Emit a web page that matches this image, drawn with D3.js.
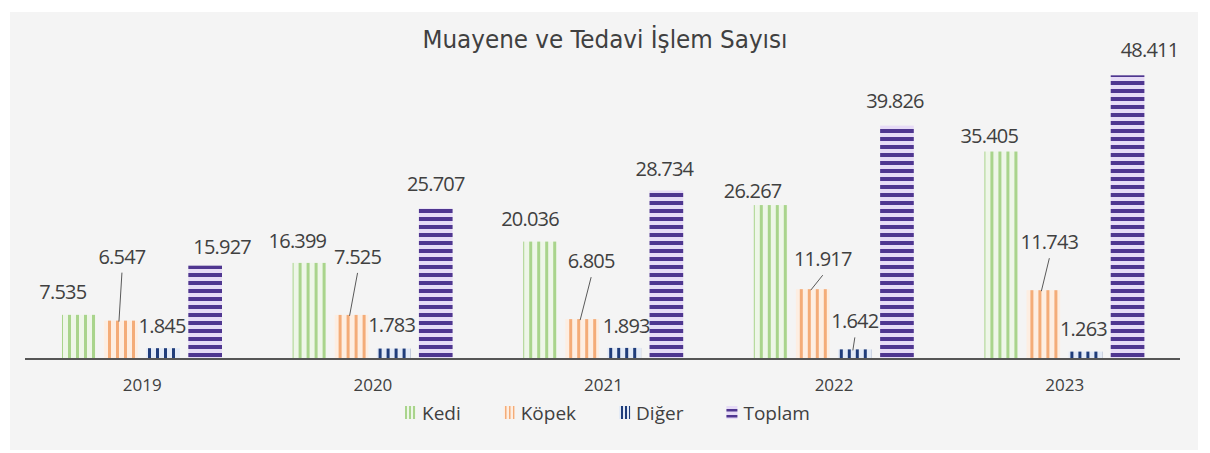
<!DOCTYPE html>
<html>
<head>
<meta charset="utf-8">
<script src="https://cdn.jsdelivr.net/npm/d3@7"></script>
<style>
  body { margin: 0; background: #ffffff; }
  svg { display: block; }
</style>
</head>
<body>
<div id="chart"></div>
<script>
// values
const years = ["2019", "2020", "2021", "2022", "2023"];
const seriesNames = ["Kedi", "Köpek", "Diğer", "Toplam"];
const kedi = [7535, 16399, 20036, 26267, 35405];
const kopek = [6547, 7525, 6805, 11917, 11743];
const diger = [1845, 1783, 1893, 1642, 1263];
const toplam = [15927, 25707, 28734, 39826, 48411];
const valueLabels = {
  "Kedi": ["7.535", "16.399", "20.036", "26.267", "35.405"],
  "Köpek": ["6.547", "7.525", "6.805", "11.917", "11.743"],
  "Diğer": ["1.845", "1.783", "1.893", "1.642", "1.263"],
  "Toplam": ["15.927", "25.707", "28.734", "39.826", "48.411"]
};

// label nudges (layout only), relative to bar centre / bar top
const labelDx = {
  "Kedi": [-16, -12, -10, -18, -12],
  "Köpek": [1, 6, 9, 10, 6],
  "Diğer": [-1, -2, 2, 0, -2],
  "Toplam": [17, 0, -2, -2, 22]
};
const labelDy = {
  "Kedi": [-16, -15, -16, -7, -9],
  "Köpek": [-57, -51, -51, -23, -41],
  "Diğer": [-15, -17, -15, -21, -16],
  "Toplam": [-12, -17, -15, -18, -18]
};
const leaders = { "Köpek": [true, true, true, true, true], "Diğer": [false, false, false, true, false] };

const seriesValues = { "Kedi": kedi, "Köpek": kopek, "Diğer": diger, "Toplam": toplam };

const width = 1210;
const height = 453;
const baseY = 359;

const svg = d3.select("#chart")
  .append("svg")
  .attr("width", width)
  .attr("height", height);

// panel background
svg.append("rect")
  .attr("x", 10).attr("y", 12)
  .attr("width", 1188).attr("height", 438)
  .attr("fill", "#f4f4f4");

// patterns
const defs = svg.append("defs");

function vStripes(id, size, bg, fg, w) {
  const p = defs.append("pattern")
    .attr("id", id)
    .attr("patternUnits", "userSpaceOnUse")
    .attr("width", size).attr("height", size);
  p.append("rect").attr("width", size).attr("height", size).attr("fill", bg);
  p.append("rect").attr("x", 1).attr("width", w).attr("height", size).attr("fill", fg);
}
function hStripes(id, size, bg, fg, h) {
  const p = defs.append("pattern")
    .attr("id", id)
    .attr("patternUnits", "userSpaceOnUse")
    .attr("width", size).attr("height", size);
  p.append("rect").attr("width", size).attr("height", size).attr("fill", bg);
  p.append("rect").attr("y", 1).attr("width", size).attr("height", h).attr("fill", fg);
}

const styles = {
  "Kedi": { bg: "#eef6e8", fg: "#a9d48c" },
  "Köpek": { bg: "#fdeee2", fg: "#f4ac78" },
  "Diğer": { bg: "#e3eaf6", fg: "#1f3c7a" },
  "Toplam": { bg: "#e6dbf6", fg: "#4f3690" }
};

vStripes("p-Kedi", 8, styles["Kedi"].bg, styles["Kedi"].fg, 3);
vStripes("p-Köpek", 8, styles["Köpek"].bg, styles["Köpek"].fg, 3);
vStripes("p-Diğer", 8, styles["Diğer"].bg, styles["Diğer"].fg, 3);
hStripes("p-Toplam", 8, styles["Toplam"].bg, styles["Toplam"].fg, 4);
vStripes("l-Kedi", 4, styles["Kedi"].bg, styles["Kedi"].fg, 2);
vStripes("l-Köpek", 4, styles["Köpek"].bg, styles["Köpek"].fg, 1.5);
vStripes("l-Diğer", 4, styles["Diğer"].bg, styles["Diğer"].fg, 2);
hStripes("l-Toplam", 6, styles["Toplam"].bg, styles["Toplam"].fg, 2.5);

// scales
const x0 = d3.scaleBand().domain(years).range([27, 1180]).padding(0);
const x1 = d3.scaleBand().domain(seriesNames).range([35, 195]).paddingInner(0.2).paddingOuter(0);
const y = d3.scaleLinear().domain([0, 50000]).range([baseY, 66]);

// title
svg.append("text")
  .attr("x", 605).attr("y", 48)
  .attr("text-anchor", "middle")
  .attr("font-family", "'Liberation Sans Narrow', 'DejaVu Sans Condensed', 'Noto Sans', sans-serif")
  .attr("font-size", 24)
  .attr("fill", "#404040")
  .attr("textLength", 365)
  .attr("lengthAdjust", "spacingAndGlyphs")
  .text("Muayene ve Tedavi İşlem Sayısı");

// bars
const groups = svg.selectAll("g.year")
  .data(years)
  .enter()
  .append("g")
  .attr("class", "year")
  .attr("transform", (d) => `translate(${x0(d)},0)`);

groups.selectAll("rect")
  .data((d, i) => seriesNames.map((s) => ({ s: s, v: seriesValues[s][i] })))
  .enter()
  .append("rect")
  .attr("x", (d) => x1(d.s))
  .attr("y", (d) => y(d.v))
  .attr("width", x1.bandwidth())
  .attr("height", (d) => baseY - y(d.v))
  .attr("fill", (d) => `url(#p-${d.s})`);

// axis line
svg.append("line")
  .attr("x1", 25).attr("x2", 1180)
  .attr("y1", baseY).attr("y2", baseY)
  .attr("stroke", "#555555")
  .attr("stroke-width", 2);

// category labels
svg.selectAll("text.cat")
  .data(years)
  .enter()
  .append("text")
  .attr("class", "cat")
  .attr("x", (d) => x0(d) + x0.bandwidth() / 2)
  .attr("y", 391)
  .attr("text-anchor", "middle")
  .attr("font-family", "'Open Sans', sans-serif")
  .attr("font-size", 17)
  .attr("fill", "#404040")
  .text((d) => d);

// value labels and leader lines
seriesNames.forEach((s) => {
  years.forEach((yr, i) => {
    const cx = x0(yr) + x1(s) + x1.bandwidth() / 2;
    const top = y(seriesValues[s][i]);
    const lx = cx + labelDx[s][i];
    const ly = top + labelDy[s][i];
    if (leaders[s] && leaders[s][i]) {
      svg.append("line")
        .attr("x1", lx).attr("y1", ly + 9)
        .attr("x2", cx - 2).attr("y2", top + 1)
        .attr("stroke", "#595959")
        .attr("stroke-width", 1);
    }
    svg.append("text")
      .attr("x", lx)
      .attr("y", ly)
      .attr("text-anchor", "middle")
      .attr("font-family", "'Open Sans', sans-serif")
      .attr("font-size", 20)
      .attr("letter-spacing", -0.8)
      .attr("fill", "#404040")
      .text(valueLabels[s][i]);
  });
});

// legend
const legend = svg.append("g").attr("class", "legend");
let lxPos = 405;
seriesNames.forEach((s) => {
  legend.append("rect")
    .attr("x", lxPos).attr("y", 406)
    .attr("width", 11).attr("height", 13)
    .attr("fill", `url(#l-${s})`);
  const t = legend.append("text")
    .attr("x", lxPos + 17)
    .attr("y", 420)
    .attr("font-family", "'Open Sans', sans-serif")
    .attr("font-size", 19)
    .attr("fill", "#404040")
    .text(s);
  lxPos += 17 + t.node().getComputedTextLength() + 43;
});
</script>
</body>
</html>
